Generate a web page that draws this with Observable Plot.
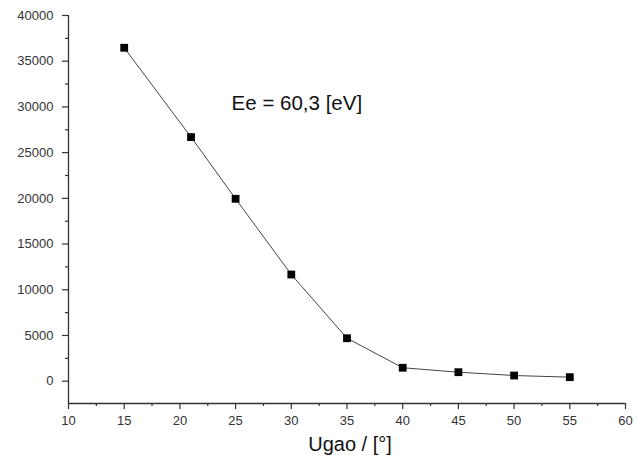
<!DOCTYPE html>
<html>
<head>
<meta charset="utf-8">
<script src="https://cdn.jsdelivr.net/npm/d3@7"></script>
<script src="https://cdn.jsdelivr.net/npm/@observablehq/plot@0.6"></script>
<style>
  html, body { margin: 0; padding: 0; background: #fff; }
  #chart svg { display: block; }
</style>
</head>
<body>
<div id="chart"></div>
<script>
// Data
const angles = [15, 21, 25, 30, 35, 40, 45, 50, 55];
const counts = [36470, 26700, 19950, 11670, 4700, 1470, 985, 620, 440];

const xDomain = [10, 60];
const yDomain = [-2440, 40000];
const xMajorTicks = [10, 15, 20, 25, 30, 35, 40, 45, 50, 55, 60];
const xMinorTicks = [12.5, 17.5, 22.5, 27.5, 32.5, 37.5, 42.5, 47.5, 52.5, 57.5];
const yMajorTicks = [0, 5000, 10000, 15000, 20000, 25000, 30000, 35000, 40000];
const yMinorTicks = [2500, 7500, 12500, 17500, 22500, 27500, 32500, 37500];

const annotationText = ["Ee = 60,3 [eV]"];
const annotationX = [30.5];
const annotationY = [30380];
const xTitle = ["Ugao / [°]"];

const data = angles.map((a, i) => ({angle: a, count: counts[i]}));
const note = annotationText.map((t, i) => ({t, x: annotationX[i], y: annotationY[i]}));

const axisColor = "#333";
const tickFont = {fontSize: 13, fill: "#333"};

const chart = Plot.plot({
  width: 642,
  height: 463,
  marginLeft: 68,
  marginRight: 17,
  marginTop: 15,
  marginBottom: 60,
  style: {fontFamily: "'Liberation Sans', Arial, sans-serif", background: "#fff"},
  x: {domain: xDomain},
  y: {domain: yDomain},
  marks: [
    // axis lines (left and bottom)
    Plot.ruleX([xDomain[0]], {stroke: axisColor, strokeWidth: 1.3}),
    Plot.ruleY([yDomain[0]], {stroke: axisColor, strokeWidth: 1.3}),
    // major ticks with labels
    Plot.axisX(xMajorTicks, {
      anchor: "bottom", tickSize: 6, tickPadding: 6, label: null,
      stroke: axisColor, strokeWidth: 1.2, ...tickFont,
      tickFormat: d => String(d),
      style: {letterSpacing: "1px"}
    }),
    Plot.axisX(xMinorTicks, {
      anchor: "bottom", tickSize: 3, label: null, stroke: axisColor, strokeWidth: 1.2,
      tickFormat: () => ""
    }),
    Plot.axisY(yMajorTicks, {
      anchor: "left", tickSize: 6, tickPadding: 9, label: null,
      stroke: axisColor, strokeWidth: 1.2, ...tickFont,
      tickFormat: d => String(d),
      style: {letterSpacing: "0.8px"}
    }),
    Plot.axisY(yMinorTicks, {
      anchor: "left", tickSize: 3, label: null, stroke: axisColor, strokeWidth: 1.2,
      tickFormat: () => ""
    }),
    // data line and square markers
    Plot.line(data, {x: "angle", y: "count", stroke: "#444", strokeWidth: 1}),
    Plot.dot(data, {x: "angle", y: "count", symbol: "square", r: 4.4, fill: "#000", stroke: "none"}),
    // annotation
    Plot.text(note, {x: "x", y: "y", text: "t", fontSize: 20.5, fill: "#111", textAnchor: "middle"}),
    // x axis title
    Plot.text(xTitle, {frameAnchor: "bottom", dy: 47, dx: 3, fontSize: 20, fill: "#111"})
  ]
});

document.getElementById("chart").appendChild(chart);
</script>
</body>
</html>
